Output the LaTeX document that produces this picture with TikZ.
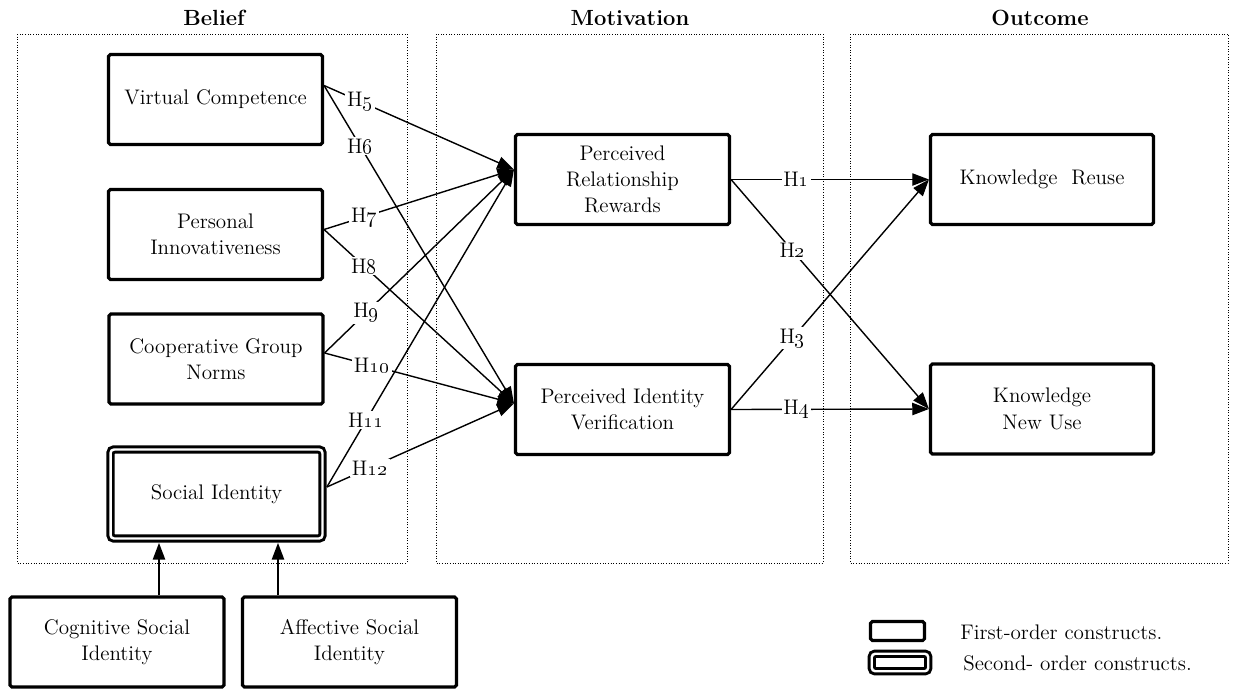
\documentclass[tikz,border=0pt]{standalone}
\usetikzlibrary{positioning,calc,arrows.meta}

\begin{document}
\begin{tikzpicture}[x=0.02cm,y=-0.02cm,
    font=\fontsize{12}{15}\selectfont,
    construct/.style={draw,line width=1.8pt,rounded corners=1pt,minimum width=4.28cm,minimum height=1.8cm,align=center,inner sep=2pt},
    secondorder/.style={draw,line width=1.7pt,double,double distance=1.4pt,rounded corners=2pt,minimum width=4.24cm,minimum height=1.78cm,align=center,outer sep=2.5pt},
    zone/.style={draw,densely dotted,line width=0.5pt},
    zonetitle/.style={font=\fontsize{12.5}{15}\selectfont\bfseries},
    hyparrow/.style={-{Triangle[length=9.5pt,width=7pt]},line width=0.8pt},
    hyp/.style={fill=white,inner sep=1pt}]
    \useasboundingbox (0,0) rectangle (1242,690);

    % Zones
    \draw[zone] (17,34) rectangle (407,563);
    \draw[zone] (436,34) rectangle (823,563);
    \draw[zone] (850,34) rectangle (1228,563);
    \node[zonetitle] (belief) at (214,18) {Belief};
    \node[zonetitle] (motivation) at (630,18) {Motivation};
    \node[zonetitle] (outcome) at (1040,18) {Outcome};

    % Belief
    \node[construct] (vc) at (215.5,99.5) {Virtual Competence};
    \node[construct] (pi) at (215.5,234.5) {Personal\\Innovativeness};
    \node[construct] (cgn) at (216,359) {Cooperative Group\\Norms};
    \node[secondorder] (si) at (216.5,494) {Social Identity};
    \node[construct] (csi) at (117,642) {Cognitive Social\\Identity};
    \node[construct] (asi) at (349.5,642) {Affective Social\\Identity};

    % Motivation
    \node[construct] (prr) at (622.5,179.5) {Perceived\\Relationship\\Rewards};
    \node[construct] (piv) at (622.5,409.5) {Perceived Identity\\Verification};

    % Outcome
    \node[construct,minimum width=4.46cm] (kr) at (1042,179.5) {Knowledge\ \ Reuse};
    \node[construct,minimum width=4.46cm] (knu) at (1042,409) {Knowledge\\New Use};

    % Second-order
    \coordinate (csitop) at ($(csi.north)+(42,0)$);
    \coordinate (asitop) at ($(asi.north)+(-71.5,0)$);
    \draw[hyparrow] (csitop) -- (csitop |- si.south);
    \draw[hyparrow] (asitop) -- (asitop |- si.south);

    % H5 - H12
    \coordinate (vcout) at ($(vc.east)+(0,-14)$);
    \coordinate (piout) at ($(pi.east)+(0,-5)$);
    \coordinate (cgnout) at ($(cgn.east)+(0,-6)$);
    \coordinate (siout) at ($(si.east)+(0,-7)$);
    \coordinate (prrin) at ($(prr.west)+(0,-10)$);
    \coordinate (pivin) at ($(piv.west)+(0,-6)$);
    \draw[hyparrow] (vcout) -- node[hyp,pos=0.19]{H\oldstylenums{5}} (prrin);
    \draw[hyparrow] (vcout) -- node[hyp,pos=0.19]{H\oldstylenums{6}} (pivin);
    \draw[hyparrow] (piout) -- node[hyp,pos=0.21]{H\oldstylenums{7}} (prrin);
    \draw[hyparrow] (piout) -- node[hyp,pos=0.21]{H\oldstylenums{8}} (pivin);
    \draw[hyparrow] (cgnout) -- node[hyp,pos=0.22]{H\oldstylenums{9}} (prrin);
    \draw[hyparrow] (cgnout) -- node[hyp,pos=0.25]{H\oldstylenums{10}} (pivin);
    \draw[hyparrow] (siout) -- node[hyp,pos=0.21]{H\oldstylenums{11}} (prrin);
    \draw[hyparrow] (siout) -- node[hyp,pos=0.23]{H\oldstylenums{12}} (pivin);

    % H1 - H4
    \draw[hyparrow] (prr.east) -- node[hyp,pos=0.33]{H\oldstylenums{1}} (kr.west);
    \draw[hyparrow] (prr.east) -- node[hyp,pos=0.31]{H\oldstylenums{2}} (knu.west);
    \draw[hyparrow] (piv.east) -- node[hyp,pos=0.31]{H\oldstylenums{3}} (kr.west);
    \draw[hyparrow] (piv.east) -- node[hyp,pos=0.33]{H\oldstylenums{4}} (knu.west);

    % Legend
    \node[construct,minimum width=1.08cm,minimum height=0.38cm,inner sep=0pt] (first) at (897.5,631) {};
    \node[secondorder,minimum width=1.13cm,minimum height=0.35cm,inner sep=0pt] (second) at (900,662.5) {};
    \node[anchor=west,inner sep=0pt] (firsttext) at (960,632) {First-order constructs.};
    \node[anchor=west,inner sep=0pt] (secondtext) at (963,663) {Second- order constructs.};
\end{tikzpicture}
\end{document}
